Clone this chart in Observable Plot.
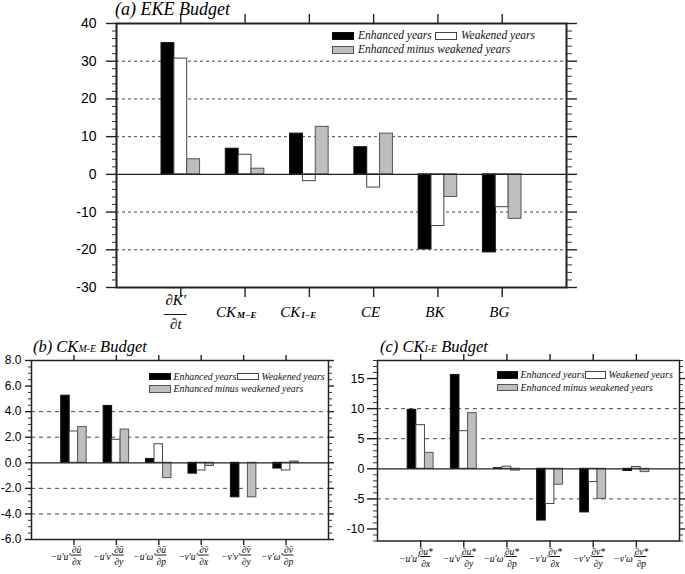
<!DOCTYPE html>
<html><head><meta charset="utf-8">
<script src="https://cdn.jsdelivr.net/npm/d3@7"></script>
<script src="https://cdn.jsdelivr.net/npm/@observablehq/plot@0.6"></script>
<style>
body{margin:0;background:#fff;}
#wrap{position:relative;width:685px;height:574px;overflow:hidden;font-family:"Liberation Serif","Times New Roman",serif;}
.panel{position:absolute;}
.title{position:absolute;font-style:italic;white-space:nowrap;color:#000;line-height:1;}
.title .sub{font-size:0.6em;}
.leg{position:absolute;font-style:italic;white-space:nowrap;line-height:1;color:#111;}
.sw{position:absolute;box-sizing:border-box;}
</style></head>
<body>
<div id="wrap"></div>
<script>
// ---------- data ----------
const catsA = ["∂K′/∂t", "CK_M−E", "CK_I−E", "CE", "BK", "BG"];
const enhA  = [34.8, 6.8, 10.8, 7.2, -19.9, -20.7];
const weakA = [30.7, 5.2, -1.8, -3.5, -13.7, -8.7];
const diffA = [4.0, 1.5, 12.6, 10.8, -6.0, -11.8];
const ticksA = [-30, -20, -10, 0, 10, 20, 30, 40];
const gridA = [-20, -10, 10, 20, 30];

const catsB = ["−u′u′ ∂ū/∂x", "−u′v′ ∂ū/∂y", "−u′ω′ ∂ū/∂p", "−v′u′ ∂v̄/∂x", "−v′v′ ∂v̄/∂y", "−v′ω′ ∂v̄/∂p"];
const enhB  = [5.25, 4.45, 0.3, -0.85, -2.7, -0.45];
const weakB = [2.45, 1.8, 1.45, -0.6, 0.0, -0.6];
const diffB = [2.8, 2.6, -1.2, -0.25, -2.7, 0.1];
const ticksB = [-6, -4, -2, 0, 2, 4, 6, 8];
const gridB = [-4, -2, 2, 4];

const catsC = ["−u′u′ ∂u*/∂x", "−u′v′ ∂u*/∂y", "−u′ω′ ∂u*/∂p", "−v′u′ ∂v*/∂x", "−v′v′ ∂v*/∂y", "−v′ω′ ∂v*/∂p"];
const enhC  = [9.8, 15.6, 0.1, -8.6, -7.25, -0.35];
const weakC = [7.25, 6.25, 0.35, -5.85, -2.2, 0.3];
const diffC = [2.65, 9.25, -0.3, -2.65, -5.0, -0.55];
const ticksC = [-10, -5, 0, 5, 10, 15];
const gridC = [-5, 5, 10];

const seriesNames = ["Enhanced years", "Weakened years", "Enhanced minus weakened years"];

// ---------- helpers ----------
const SERIF = "'Liberation Serif','Times New Roman',serif";
const SANS = "'Liberation Sans',Arial,sans-serif";
const styles = [
  {fill: "#000", stroke: "#111"},
  {fill: "#fff", stroke: "#444"},
  {fill: "#bebebe", stroke: "#555"}
];

function parseLabel(s) {
  let prefix = "", rest = s;
  const sp = s.indexOf(" ");
  if (sp >= 0) { prefix = s.slice(0, sp); rest = s.slice(sp + 1); }
  let num = null, den = null, main = null, sub = null;
  if (rest.includes("/")) [num, den] = rest.split("/");
  else if (rest.includes("_")) [main, sub] = rest.split("_");
  else main = rest;
  return {prefix, num, den, main, sub};
}

function panel(cfg) {
  const {cats, series, yDomain, majors, minorStep, grid, fmt, W, H, m} = cfg;
  const ppu = (W - m.left - m.right) / 7;
  const rows = [];
  series.forEach((vals, k) => vals.forEach((v, i) => rows.push({k, i: i + 1, v})));
  const minors = d3.range(yDomain[0], yDomain[1] + 1e-9, minorStep)
    .map(v => +v.toFixed(4)).filter(v => !majors.includes(v));
  const idx = cats.map((c, i) => i + 1);
  const labs = cats.map((c, i) => ({i: i + 1, ...parseLabel(c)}));
  const y0 = yDomain[0];
  const L = cfg.lab;
  const txt = {fontStyle: "italic", fontFamily: SERIF, fill: "#000", lineAnchor: "middle"};
  const marks = [
    Plot.ruleY(grid, {stroke: "#333", strokeWidth: 0.9, strokeDasharray: cfg.dash}),
    ...[0, 1, 2].map(k => Plot.rect(rows.filter(d => d.k === k), {
      x1: d => d.i + (d.k - 1) * 0.2 - 0.1,
      x2: d => d.i + (d.k - 1) * 0.2 + 0.1,
      y1: () => 0, y2: d => d.v,
      fill: styles[k].fill, stroke: styles[k].stroke, strokeWidth: 1
    })),
    Plot.ruleY([0], {stroke: "#222", strokeWidth: 1.2}),
    Plot.frame({stroke: "#222", strokeWidth: cfg.frameW}),
    Plot.axisY({anchor: "left", ticks: majors, tickSize: cfg.major[0], tickPadding: cfg.pad, tickFormat: fmt,
      fontSize: cfg.tickFont, fontFamily: SANS, label: null, stroke: "#222", strokeWidth: 1.4, fill: "#000"}),
    Plot.axisY({anchor: "left", ticks: minors, tickSize: cfg.minor[0], tickFormat: () => "", label: null, stroke: "#333", strokeWidth: 1}),
    Plot.axisY({anchor: "right", ticks: majors, tickSize: cfg.major[1], tickFormat: () => "", label: null, stroke: "#222", strokeWidth: 1.4}),
    Plot.axisY({anchor: "right", ticks: minors, tickSize: cfg.minor[1], tickFormat: () => "", label: null, stroke: "#333", strokeWidth: 1}),
    Plot.axisX({anchor: "top", ticks: idx, tickSize: cfg.xTick, tickFormat: () => "", label: null, stroke: "#222", strokeWidth: 1.4}),
    Plot.axisX({anchor: "bottom", ticks: idx, tickSize: cfg.xTick, tickFormat: () => "", label: null, stroke: "#222", strokeWidth: 1.4}),
    // category labels
    Plot.text(labs.filter(d => d.prefix), {x: "i", y: () => y0, text: "prefix", dx: L.preDx, dy: L.preDy,
      textAnchor: "end", fontSize: L.preSize, ...txt}),
    Plot.text(labs.filter(d => d.num), {x: "i", y: () => y0, text: "num", dx: L.fracDx, dy: L.numDy,
      textAnchor: "middle", fontSize: L.fracSize, ...txt}),
    Plot.text(labs.filter(d => d.den), {x: "i", y: () => y0, text: "den", dx: L.fracDx, dy: L.denDy,
      textAnchor: "middle", fontSize: L.fracSize, ...txt}),
    Plot.ruleY(labs.filter(d => d.num), {y: () => y0, dy: L.barDy,
      x1: d => d.i + (L.fracDx - L.barHalf) / ppu, x2: d => d.i + (L.fracDx + L.barHalf) / ppu,
      stroke: "#000", strokeWidth: 0.9}),
    Plot.text(labs.filter(d => d.main && !d.sub), {x: "i", y: () => y0, text: "main", dx: L.mainDx, dy: L.mainDy,
      textAnchor: "middle", fontSize: L.mainSize, ...txt}),
    Plot.text(labs.filter(d => d.sub), {x: "i", y: () => y0, text: "main", dx: L.subDx, dy: L.mainDy,
      textAnchor: "end", fontSize: L.mainSize, ...txt}),
    Plot.text(labs.filter(d => d.sub), {x: "i", y: () => y0, text: "sub", dx: L.subDx + 1, dy: L.mainDy + 2.5,
      textAnchor: "start", fontSize: L.subSize, fontWeight: "bold", ...txt})
  ];
  return Plot.plot({
    width: W, height: H,
    marginLeft: m.left, marginRight: m.right, marginTop: m.top, marginBottom: m.bottom,
    x: {domain: [0, 7]},
    y: {domain: yDomain},
    style: {overflow: "visible", background: "transparent"},
    marks
  });
}

const wrap = document.getElementById("wrap");
function place(el, left, top) {
  el.classList.add("panel");
  el.style.left = left + "px"; el.style.top = top + "px";
  wrap.appendChild(el);
}
function addTitle(html, left, top, size) {
  const d = document.createElement("div");
  d.className = "title"; d.innerHTML = html;
  d.style.left = left + "px"; d.style.top = top + "px"; d.style.fontSize = size + "px";
  wrap.appendChild(d);
}
function addLegend(L) {
  const items = [[0, L.x, L.y], [1, L.wx, L.y], [2, L.x, L.y + L.rowH]];
  items.forEach(([k, x, y]) => {
    const s = document.createElement("div");
    s.className = "sw";
    s.style.left = x + "px"; s.style.top = y + "px";
    s.style.width = L.sw + "px"; s.style.height = L.sh + "px";
    s.style.background = styles[k].fill; s.style.border = "1px solid " + styles[k].stroke;
    wrap.appendChild(s);
    const t = document.createElement("div");
    t.className = "leg"; t.textContent = seriesNames[k];
    t.style.fontSize = L.font + "px";
    t.style.left = (x + L.sw + L.gap) + "px";
    t.style.top = (y + L.sh - 0.89 * L.font + 0.5) + "px";
    wrap.appendChild(t);
  });
}

// ---------- panel (a) ----------
place(panel({
  cats: catsA, series: [enhA, weakA, diffA], yDomain: [-30, 40], majors: ticksA, minorStep: 2, grid: gridA,
  fmt: d => String(d), W: 600, H: 340, m: {left: 116, right: 34, top: 23, bottom: 53},
  dash: "3,3", frameW: 2, major: [10, 10], minor: [4, 5], pad: 10, tickFont: 14, xTick: 10,
  lab: {preDx: 0, preDy: 0, preSize: 14, fracDx: -5, numDy: 12.5, denDy: 37, barDy: 27, barHalf: 11.5, fracSize: 15,
        mainDx: -3, mainDy: 25, mainSize: 15, subDx: -9, subSize: 9}
}), 0, 0);
addTitle("(a) EKE Budget", 115, 0, 18);
addLegend({x: 332, y: 32, sw: 22, sh: 8, gap: 4, rowH: 13.5, wx: 435, font: 11.5});

// ---------- panel (b) ----------
place(panel({
  cats: catsB, series: [enhB, weakB, diffB], yDomain: [-6, 8], majors: ticksB, minorStep: 0.5, grid: gridB,
  fmt: d => d.toFixed(1), W: 342, H: 239, m: {left: 31, right: 14, top: 25, bottom: 35},
  dash: "4,4", frameW: 1.5, major: [6, 5], minor: [3, 3], pad: 4, tickFont: 12, xTick: 6,
  lab: {preDx: -3.5, preDy: 17.5, preSize: 9.5, fracDx: 2.5, numDy: 10, denDy: 22, barDy: 15.5, barHalf: 5.5, fracSize: 9.5,
        mainDx: 0, mainDy: 18, mainSize: 9, subDx: 0, subSize: 7}
}), 0, 335);
addTitle('(b) CK<span class="sub">M-E</span> Budget', 33, 338.5, 16.5);
addLegend({x: 149, y: 372.5, sw: 22, sh: 7.5, gap: 2.5, rowH: 12.5, wx: 237, font: 9.8});

// ---------- panel (c) ----------
place(panel({
  cats: catsC, series: [enhC, weakC, diffC], yDomain: [-12, 18], majors: ticksC, minorStep: 1, grid: gridC,
  fmt: d => String(d), W: 343, H: 239, m: {left: 35, right: 6, top: 25, bottom: 33.5},
  dash: "4,4", frameW: 1.5, major: [10, 5], minor: [4, 3], pad: 3, tickFont: 12.5, xTick: 7,
  lab: {preDx: -1.5, preDy: 18, preSize: 9.5, fracDx: 5, numDy: 10.5, denDy: 22.5, barDy: 15.5, barHalf: 5.5, fracSize: 9.5,
        mainDx: 0, mainDy: 18, mainSize: 9, subDx: 0, subSize: 7}
}), 342, 335);
addTitle('(c) CK<span class="sub">I-E</span> Budget', 380, 338.5, 16.5);
addLegend({x: 497, y: 371, sw: 21, sh: 7.5, gap: 2.5, rowH: 12.5, wx: 585, font: 10});
</script>
</body></html>
